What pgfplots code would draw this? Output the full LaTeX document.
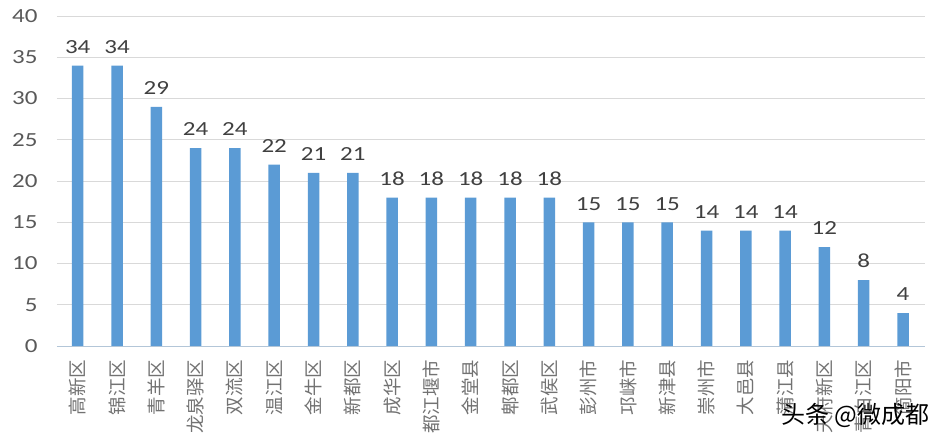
\documentclass[border=0pt]{standalone}
\usepackage{fontspec}
\usepackage{pgfplots}
\pgfplotsset{compat=1.18}
\setmainfont[FakeStretch=1.25]{Carlito}
\newfontfamily\cjk{Noto Sans CJK SC}
\definecolor{barblue}{HTML}{5B9BD5}
\definecolor{gridg}{HTML}{D9D9D9}
\definecolor{txt}{HTML}{595959}
\definecolor{lab}{HTML}{404040}
\begin{document}
\begin{tikzpicture}[x=1pt,y=1pt]
\path[use as bounding box] (0,0) rectangle (942,440);
\begin{axis}[
  at={(57pt,94pt)}, anchor=south west,
  scale only axis, width=868pt, height=330pt,
  xmin=-0.527, xmax=21.56, ymin=0, ymax=40,
  ytick={0,5,...,40}, xtick=data,
  xticklabels={高新区,锦江区,青羊区,龙泉驿区,双流区,温江区,金牛区,新都区,成华区,都江堰市,金堂县,郫都区,武侯区,彭州市,邛崃市,新津县,崇州市,大邑县,蒲江县,天府新区,青白江区,简阳市},
  ymajorgrids, grid style={gridg,line width=0.9pt},
  axis line style={draw=none},
  axis x line*=bottom, axis y line*=left,
  major tick length=0pt,
  /pgf/number format/assume math mode=true,
  yticklabel style={font=\fontsize{20}{20}\selectfont, text=txt, anchor=east, xshift=-16pt},
  xticklabel style={font=\cjk\fontsize{18.5}{18.5}\selectfont, text=txt!85, rotate=90, anchor=east, xshift=-10pt},
  ybar, bar width=11.5pt,
  nodes near coords,
  every node near coord/.append style={font=\fontsize{20}{20}\selectfont, text=lab, yshift=8.5pt},
  clip=false,
]
\addplot[draw=none, fill=barblue] coordinates {
(0,34)(1,34)(2,29)(3,24)(4,24)(5,22)(6,21)(7,21)(8,18)(9,18)(10,18)(11,18)(12,18)(13,15)(14,15)(15,15)(16,14)(17,14)(18,14)(19,12)(20,8)(21,4)};
\end{axis}
\draw[color=gridg!70!barblue, line width=0.9pt] (57,94) -- (925,94);
\node[anchor=east, font=\cjk\fontsize{24}{24}\selectfont, text=black] at (933,25) {头条 @微成都};
\end{tikzpicture}
\end{document}
